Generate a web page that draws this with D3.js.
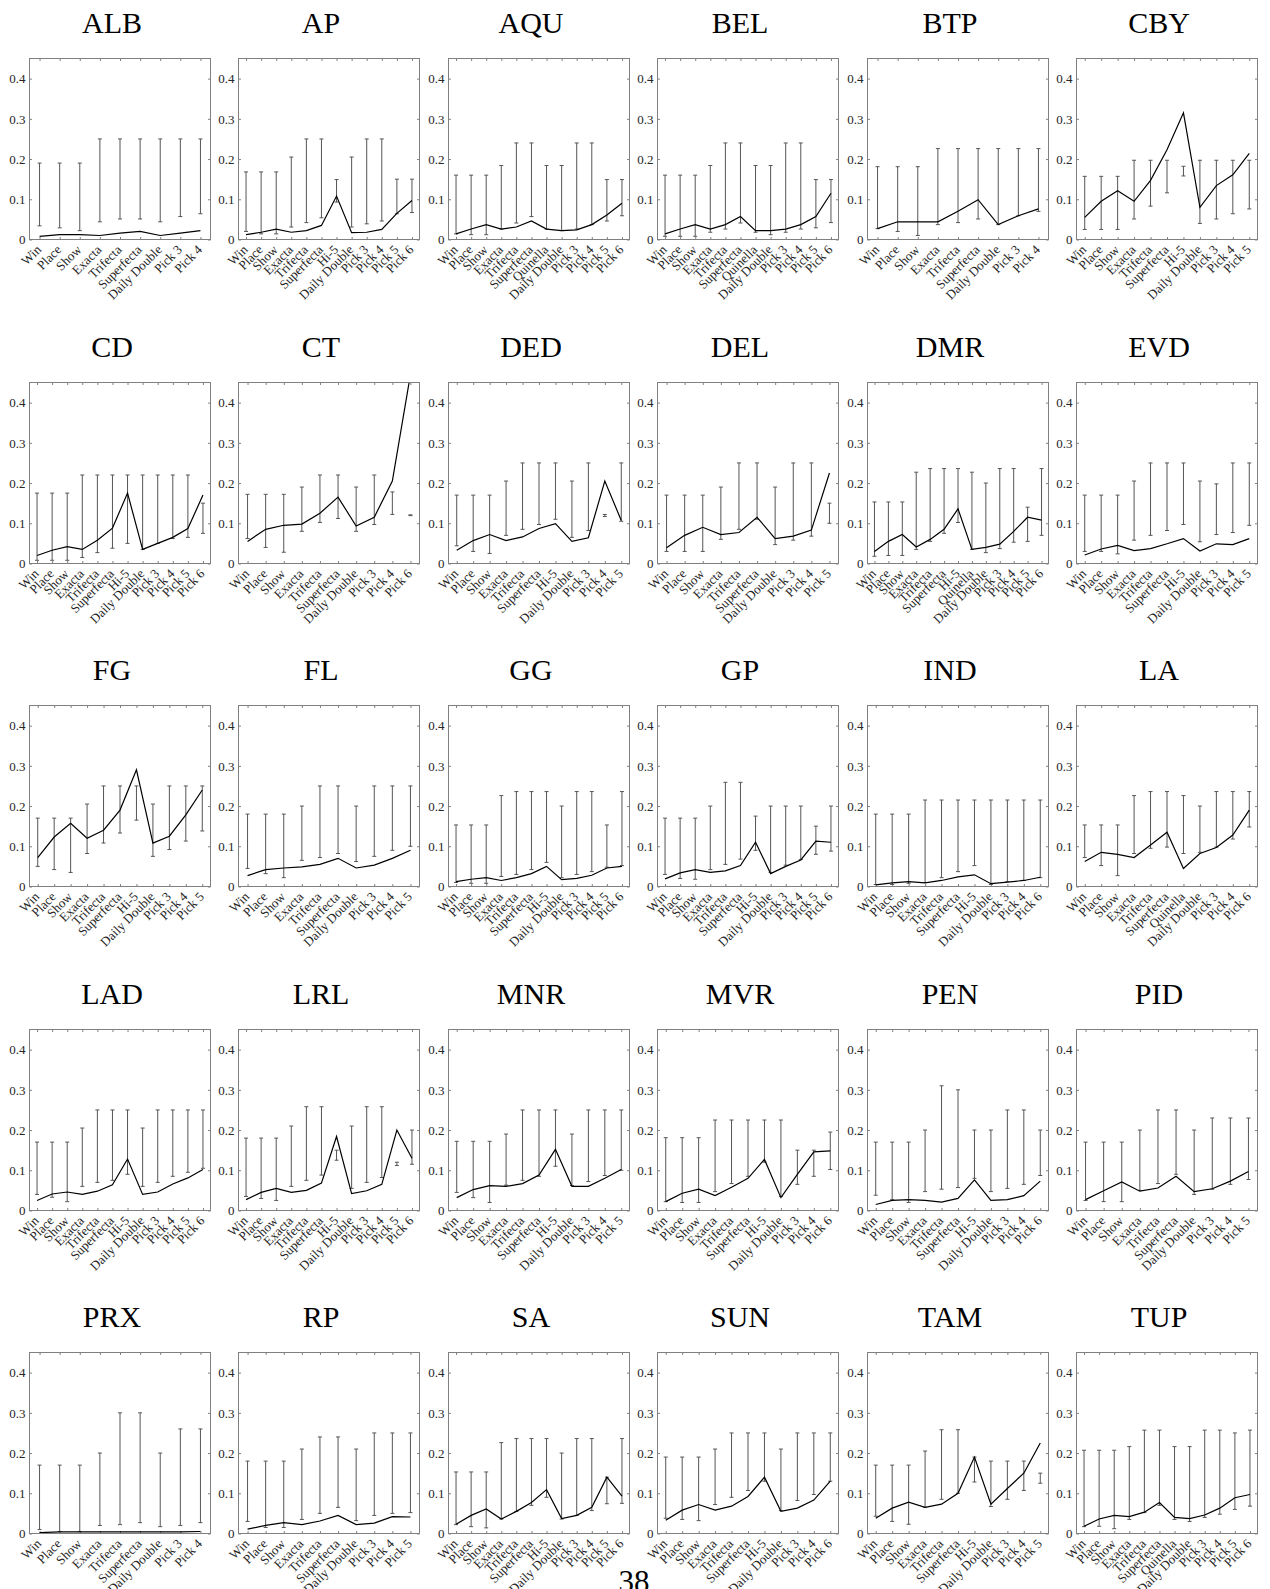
<!DOCTYPE html>
<html>
<head>
<meta charset="utf-8">
<script src="https://cdn.jsdelivr.net/npm/d3@7"></script>
<style>
  body { margin: 0; background: #fff; }
  svg { display: block; }
</style>
</head>
<body>
<div id="chart"></div>
<script>
// bet type lists shared by several tracks
var betsA = ["Win", "Place", "Show", "Exacta", "Trifecta", "Superfecta", "Daily Double", "Pick 3", "Pick 4"];
var betsB = ["Win", "Place", "Show", "Exacta", "Trifecta", "Superfecta", "Hi-5", "Daily Double", "Pick 3", "Pick 4", "Pick 5", "Pick 6"];
var betsC = ["Win", "Place", "Show", "Exacta", "Trifecta", "Superfecta", "Quinella", "Daily Double", "Pick 3", "Pick 4", "Pick 5", "Pick 6"];
var betsD = ["Win", "Place", "Show", "Exacta", "Trifecta", "Superfecta", "Hi-5", "Daily Double", "Pick 3", "Pick 4", "Pick 5"];
var betsE = ["Win", "Place", "Show", "Exacta", "Trifecta", "Superfecta", "Daily Double", "Pick 3", "Pick 4", "Pick 5"];
var betsF = ["Win", "Place", "Show", "Exacta", "Trifecta", "Superfecta", "Hi-5", "Daily Double", "Pick 3", "Pick 4", "Pick 6"];
var betsCT = ["Win", "Place", "Show", "Exacta", "Trifecta", "Superfecta", "Daily Double", "Pick 3", "Pick 4", "Pick 6"];
var betsDMR = ["Win", "Place", "Show", "Exacta", "Trifecta", "Superfecta", "Hi-5", "Quinella", "Daily Double", "Pick 3", "Pick 4", "Pick 5", "Pick 6"];
var betsLA = ["Win", "Place", "Show", "Exacta", "Trifecta", "Superfecta", "Quinella", "Daily Double", "Pick 3", "Pick 4", "Pick 6"];

var tracks = ["ALB", "AP", "AQU", "BEL", "BTP", "CBY",
              "CD", "CT", "DED", "DEL", "DMR", "EVD",
              "FG", "FL", "GG", "GP", "IND", "LA",
              "LAD", "LRL", "MNR", "MVR", "PEN", "PID",
              "PRX", "RP", "SA", "SUN", "TAM", "TUP"];

var betTypes = [betsA, betsB, betsC, betsC, betsA, betsD,
                betsB, betsCT, betsD, betsE, betsDMR, betsD,
                betsD, betsE, betsB, betsB, betsF, betsLA,
                betsB, betsB, betsD, betsF, betsF, betsE,
                betsA, betsE, betsB, betsF, betsD, betsC];

var meanValues = [
  [0.008, 0.012, 0.012, 0.010, 0.016, 0.020, 0.010, 0.016, 0.022],
  [0.012, 0.018, 0.026, 0.018, 0.022, 0.035, 0.108, 0.017, 0.018, 0.025, 0.065, 0.097],
  [0.014, 0.026, 0.037, 0.026, 0.031, 0.046, 0.026, 0.022, 0.024, 0.037, 0.061, 0.090],
  [0.014, 0.026, 0.037, 0.026, 0.037, 0.057, 0.022, 0.022, 0.026, 0.037, 0.057, 0.115],
  [0.027, 0.044, 0.044, 0.044, 0.070, 0.099, 0.037, 0.059, 0.076],
  [0.055, 0.095, 0.121, 0.095, 0.147, 0.223, 0.315, 0.080, 0.134, 0.161, 0.214],
  [0.020, 0.033, 0.042, 0.035, 0.058, 0.088, 0.175, 0.035, 0.050, 0.065, 0.087, 0.170],
  [0.055, 0.085, 0.095, 0.098, 0.125, 0.165, 0.093, 0.115, 0.205, 0.470],
  [0.033, 0.057, 0.072, 0.057, 0.066, 0.087, 0.099, 0.055, 0.064, 0.205, 0.107],
  [0.039, 0.070, 0.090, 0.072, 0.077, 0.115, 0.062, 0.068, 0.083, 0.225],
  [0.030, 0.055, 0.072, 0.041, 0.060, 0.085, 0.136, 0.035, 0.040, 0.048, 0.080, 0.115, 0.108],
  [0.021, 0.036, 0.045, 0.032, 0.037, 0.049, 0.062, 0.031, 0.049, 0.047, 0.062],
  [0.072, 0.123, 0.157, 0.120, 0.140, 0.190, 0.290, 0.108, 0.125, 0.178, 0.240],
  [0.027, 0.042, 0.046, 0.049, 0.055, 0.070, 0.046, 0.053, 0.070, 0.090],
  [0.012, 0.018, 0.022, 0.015, 0.022, 0.032, 0.050, 0.017, 0.020, 0.028, 0.046, 0.050],
  [0.019, 0.034, 0.042, 0.035, 0.039, 0.052, 0.110, 0.032, 0.050, 0.066, 0.113, 0.110],
  [0.004, 0.009, 0.012, 0.009, 0.015, 0.024, 0.029, 0.007, 0.011, 0.015, 0.023],
  [0.062, 0.085, 0.080, 0.072, 0.103, 0.135, 0.045, 0.082, 0.097, 0.128, 0.190],
  [0.025, 0.041, 0.046, 0.040, 0.048, 0.064, 0.128, 0.040, 0.046, 0.066, 0.081, 0.102],
  [0.027, 0.045, 0.055, 0.045, 0.050, 0.068, 0.184, 0.042, 0.049, 0.065, 0.200, 0.130],
  [0.032, 0.052, 0.062, 0.060, 0.067, 0.088, 0.152, 0.060, 0.060, 0.080, 0.102],
  [0.022, 0.043, 0.053, 0.037, 0.058, 0.080, 0.127, 0.032, 0.090, 0.146, 0.148],
  [0.015, 0.025, 0.027, 0.025, 0.021, 0.030, 0.076, 0.025, 0.027, 0.037, 0.073],
  [0.027, 0.049, 0.071, 0.048, 0.056, 0.085, 0.047, 0.054, 0.073, 0.097],
  [0.002, 0.004, 0.004, 0.004, 0.004, 0.004, 0.004, 0.004, 0.005],
  [0.011, 0.020, 0.027, 0.022, 0.031, 0.045, 0.022, 0.026, 0.042, 0.041],
  [0.023, 0.045, 0.061, 0.036, 0.055, 0.077, 0.109, 0.037, 0.045, 0.065, 0.140, 0.093],
  [0.033, 0.058, 0.072, 0.058, 0.068, 0.092, 0.140, 0.055, 0.063, 0.083, 0.130],
  [0.038, 0.063, 0.078, 0.065, 0.073, 0.100, 0.190, 0.073, 0.112, 0.150, 0.225],
  [0.018, 0.036, 0.045, 0.042, 0.053, 0.077, 0.040, 0.037, 0.046, 0.063, 0.089, 0.097]
];

var lowerValues = [
  [0.034, 0.029, 0.022, 0.044, 0.051, 0.051, 0.044, 0.057, 0.064],
  [0.020, 0.014, 0.014, 0.031, 0.042, 0.054, 0.093, 0.031, 0.039, 0.046, 0.064, 0.067],
  [0.014, 0.012, 0.012, 0.026, 0.041, 0.057, 0.026, 0.022, 0.026, 0.037, 0.046, 0.059],
  [0.008, 0.008, 0.008, 0.018, 0.026, 0.041, 0.018, 0.012, 0.018, 0.026, 0.029, 0.042],
  [0.027, 0.020, 0.010, 0.037, 0.042, 0.051, 0.037, 0.059, 0.070],
  [0.025, 0.025, 0.025, 0.051, 0.083, 0.116, 0.158, 0.040, 0.051, 0.064, 0.076],
  [0.008, 0.008, 0.008, 0.015, 0.027, 0.038, 0.050, 0.035, 0.050, 0.062, 0.065, 0.075],
  [0.062, 0.040, 0.028, 0.080, 0.102, 0.112, 0.080, 0.097, 0.122, 0.119],
  [0.044, 0.030, 0.025, 0.070, 0.085, 0.097, 0.110, 0.065, 0.082, 0.117, 0.105],
  [0.030, 0.030, 0.030, 0.060, 0.085, 0.110, 0.047, 0.058, 0.068, 0.100],
  [0.018, 0.020, 0.020, 0.035, 0.055, 0.075, 0.102, 0.035, 0.027, 0.037, 0.053, 0.055, 0.070],
  [0.030, 0.030, 0.024, 0.058, 0.070, 0.082, 0.097, 0.054, 0.072, 0.077, 0.095],
  [0.050, 0.042, 0.035, 0.082, 0.108, 0.133, 0.165, 0.075, 0.092, 0.113, 0.138],
  [0.045, 0.032, 0.022, 0.065, 0.072, 0.082, 0.062, 0.075, 0.090, 0.100],
  [0.010, 0.008, 0.008, 0.025, 0.030, 0.042, 0.060, 0.022, 0.030, 0.037, 0.048, 0.052],
  [0.030, 0.020, 0.018, 0.042, 0.055, 0.068, 0.090, 0.035, 0.053, 0.067, 0.080, 0.088],
  [0.005, 0.005, 0.008, 0.010, 0.022, 0.037, 0.052, 0.005, 0.012, 0.015, 0.022],
  [0.072, 0.052, 0.027, 0.082, 0.095, 0.098, 0.082, 0.085, 0.098, 0.118, 0.148],
  [0.040, 0.033, 0.022, 0.060, 0.070, 0.075, 0.090, 0.060, 0.070, 0.085, 0.095, 0.105],
  [0.035, 0.030, 0.025, 0.060, 0.075, 0.088, 0.125, 0.055, 0.070, 0.082, 0.112, 0.115],
  [0.045, 0.032, 0.020, 0.063, 0.075, 0.085, 0.110, 0.062, 0.072, 0.087, 0.100],
  [0.022, 0.020, 0.020, 0.047, 0.067, 0.085, 0.120, 0.035, 0.065, 0.085, 0.102],
  [0.038, 0.027, 0.020, 0.047, 0.053, 0.057, 0.080, 0.047, 0.055, 0.065, 0.087],
  [0.025, 0.022, 0.022, 0.050, 0.067, 0.090, 0.040, 0.053, 0.065, 0.077],
  [0.010, 0.005, 0.005, 0.020, 0.022, 0.027, 0.017, 0.020, 0.027],
  [0.030, 0.015, 0.015, 0.035, 0.050, 0.065, 0.032, 0.045, 0.050, 0.052],
  [0.022, 0.017, 0.014, 0.036, 0.055, 0.070, 0.090, 0.036, 0.045, 0.057, 0.074, 0.075],
  [0.038, 0.035, 0.032, 0.072, 0.090, 0.107, 0.130, 0.057, 0.082, 0.097, 0.130],
  [0.043, 0.030, 0.023, 0.065, 0.085, 0.100, 0.128, 0.067, 0.085, 0.107, 0.125],
  [0.017, 0.018, 0.012, 0.035, 0.052, 0.070, 0.035, 0.030, 0.040, 0.048, 0.060, 0.068]
];

var upperValues = [
  [0.190, 0.190, 0.190, 0.250, 0.250, 0.250, 0.250, 0.250, 0.250],
  [0.168, 0.168, 0.168, 0.205, 0.250, 0.250, 0.149, 0.205, 0.250, 0.250, 0.150, 0.150],
  [0.160, 0.160, 0.160, 0.184, 0.240, 0.240, 0.184, 0.184, 0.240, 0.240, 0.149, 0.149],
  [0.160, 0.160, 0.160, 0.184, 0.240, 0.240, 0.184, 0.184, 0.240, 0.240, 0.149, 0.149],
  [0.181, 0.181, 0.181, 0.226, 0.226, 0.226, 0.226, 0.226, 0.226],
  [0.157, 0.157, 0.157, 0.197, 0.197, 0.197, 0.182, 0.197, 0.197, 0.197, 0.197],
  [0.175, 0.175, 0.175, 0.220, 0.220, 0.220, 0.220, 0.220, 0.220, 0.220, 0.220, 0.150],
  [0.172, 0.172, 0.172, 0.190, 0.220, 0.220, 0.190, 0.220, 0.178, 0.121],
  [0.170, 0.170, 0.170, 0.205, 0.250, 0.250, 0.250, 0.205, 0.250, 0.122, 0.250],
  [0.170, 0.170, 0.170, 0.190, 0.250, 0.250, 0.190, 0.250, 0.250, 0.150],
  [0.153, 0.153, 0.153, 0.227, 0.236, 0.236, 0.236, 0.227, 0.200, 0.236, 0.236, 0.140, 0.236],
  [0.170, 0.170, 0.170, 0.205, 0.250, 0.250, 0.250, 0.205, 0.198, 0.250, 0.250],
  [0.170, 0.170, 0.170, 0.205, 0.250, 0.250, 0.250, 0.205, 0.250, 0.250, 0.250],
  [0.180, 0.180, 0.180, 0.200, 0.250, 0.250, 0.200, 0.250, 0.250, 0.250],
  [0.153, 0.153, 0.153, 0.226, 0.236, 0.236, 0.236, 0.200, 0.236, 0.236, 0.153, 0.236],
  [0.170, 0.170, 0.170, 0.200, 0.259, 0.259, 0.175, 0.200, 0.200, 0.200, 0.150, 0.200],
  [0.180, 0.180, 0.180, 0.215, 0.215, 0.215, 0.215, 0.215, 0.215, 0.215, 0.215],
  [0.153, 0.153, 0.153, 0.226, 0.236, 0.236, 0.226, 0.200, 0.236, 0.236, 0.236],
  [0.170, 0.170, 0.170, 0.205, 0.250, 0.250, 0.250, 0.205, 0.250, 0.250, 0.250, 0.250],
  [0.180, 0.180, 0.180, 0.210, 0.258, 0.258, 0.150, 0.210, 0.258, 0.258, 0.120, 0.200],
  [0.172, 0.172, 0.172, 0.190, 0.250, 0.250, 0.250, 0.190, 0.250, 0.250, 0.250],
  [0.181, 0.181, 0.181, 0.225, 0.225, 0.225, 0.225, 0.225, 0.150, 0.150, 0.195],
  [0.170, 0.170, 0.170, 0.200, 0.310, 0.300, 0.200, 0.200, 0.250, 0.250, 0.200],
  [0.170, 0.170, 0.170, 0.200, 0.250, 0.250, 0.200, 0.230, 0.230, 0.230],
  [0.170, 0.170, 0.170, 0.200, 0.300, 0.300, 0.200, 0.260, 0.260],
  [0.180, 0.180, 0.180, 0.210, 0.240, 0.240, 0.210, 0.250, 0.250, 0.250],
  [0.153, 0.153, 0.153, 0.226, 0.236, 0.236, 0.236, 0.200, 0.236, 0.236, 0.140, 0.236],
  [0.190, 0.190, 0.190, 0.210, 0.250, 0.250, 0.250, 0.210, 0.250, 0.250, 0.250],
  [0.170, 0.170, 0.170, 0.205, 0.258, 0.258, 0.190, 0.180, 0.180, 0.180, 0.150],
  [0.207, 0.207, 0.207, 0.216, 0.257, 0.257, 0.216, 0.216, 0.257, 0.257, 0.250, 0.257]
];

var yTicks = [0, 0.1, 0.2, 0.3, 0.4];
var pageNumber = "38";

var boxW = 181, boxH = 181;
var font = "'Liberation Serif', 'Times New Roman', serif";

var svg = d3.select("#chart")
    .append("svg")
    .attr("width", 1270)
    .attr("height", 1589);

for (var i = 0; i < tracks.length; i++) {
    var col = i % 6;
    var row = Math.floor(i / 6);
    var boxLeft = Math.round(29 + col * 209.4);
    var boxTop = Math.round(58 + row * 323.55);
    drawPanel(i, boxLeft, boxTop);
}

svg.append("text")
    .attr("x", 634)
    .attr("y", 1592)
    .attr("text-anchor", "middle")
    .style("font-family", font)
    .style("font-size", "31px")
    .style("fill", "#000")
    .text(pageNumber);


function drawPanel(i, px, py)
{
    var cats = betTypes[i];
    var data = cats.map(function(c, j) {
        return { bet: c, mean: meanValues[i][j], lo: lowerValues[i][j], hi: upperValues[i][j] };
    });

    var g = svg.append("g")
        .attr("transform", "translate(" + (px + 0.5) + "," + (py + 0.5) + ")");

    var x = d3.scalePoint()
        .domain(cats)
        .range([0, boxW])
        .padding(0.5);

    var y = d3.scaleLinear()
        .domain([0, 0.45])
        .range([boxH, 0]);

    // title
    g.append("text")
        .attr("x", boxW / 2 - 8)
        .attr("y", -26)
        .attr("text-anchor", "middle")
        .style("font-family", font)
        .style("font-size", "30px")
        .style("fill", "#000")
        .text(tracks[i]);

    g.append("clipPath")
        .attr("id", "clip" + i)
        .append("rect")
        .attr("width", boxW)
        .attr("height", boxH);

    // axes, ticks pointing inwards
    var yl = g.append("g")
        .call(d3.axisLeft(y).tickValues(yTicks).tickSizeInner(-2.5).tickSizeOuter(0).tickPadding(4)
            .tickFormat(function(d) { return d === 0 ? "0" : d3.format(".1f")(d); }));
    var yr = g.append("g")
        .attr("transform", "translate(" + boxW + ",0)")
        .call(d3.axisRight(y).tickValues(yTicks).tickSizeInner(-2.5).tickSizeOuter(0).tickFormat(""));
    var xt = g.append("g")
        .call(d3.axisTop(x).tickSizeInner(-2.5).tickSizeOuter(0).tickFormat(""));
    var xb = g.append("g")
        .attr("transform", "translate(0," + boxH + ")")
        .call(d3.axisBottom(x).tickSizeInner(-2.5).tickSizeOuter(0));

    [yl, yr, xt, xb].forEach(function(a) {
        a.select(".domain").remove();
        a.selectAll("line").attr("stroke", "#808080");
        a.selectAll("text")
            .attr("font-family", null)
            .style("font-family", font)
            .style("font-size", "13px")
            .style("fill", "#262626");
    });

    xb.selectAll("text")
        .attr("x", 0)
        .attr("y", 0)
        .attr("dy", "0")
        .attr("text-anchor", "end")
        .attr("transform", "translate(2,11) rotate(-45)");

    var plot = g.append("g").attr("clip-path", "url(#clip" + i + ")");

    // error bars
    var bars = plot.selectAll(".bar")
        .data(data)
        .enter()
        .append("g")
        .attr("class", "bar")
        .style("stroke", "#555")
        .style("stroke-width", 1);

    bars.append("line")
        .attr("x1", function(d) { return x(d.bet); })
        .attr("x2", function(d) { return x(d.bet); })
        .attr("y1", function(d) { return y(d.lo); })
        .attr("y2", function(d) { return y(d.hi); });
    bars.append("line")
        .attr("x1", function(d) { return x(d.bet) - 2; })
        .attr("x2", function(d) { return x(d.bet) + 2; })
        .attr("y1", function(d) { return y(d.hi); })
        .attr("y2", function(d) { return y(d.hi); });
    bars.append("line")
        .attr("x1", function(d) { return x(d.bet) - 2; })
        .attr("x2", function(d) { return x(d.bet) + 2; })
        .attr("y1", function(d) { return y(d.lo); })
        .attr("y2", function(d) { return y(d.lo); });

    plot.append("path")
        .datum(data)
        .attr("d", d3.line()
            .x(function(d) { return x(d.bet); })
            .y(function(d) { return y(d.mean); }))
        .style("fill", "none")
        .style("stroke", "#000")
        .style("stroke-width", 1.2);

    g.append("rect")
        .attr("width", boxW)
        .attr("height", boxH)
        .style("fill", "none")
        .style("stroke", "#808080")
        .style("stroke-width", 1);
}
</script>
</body>
</html>
